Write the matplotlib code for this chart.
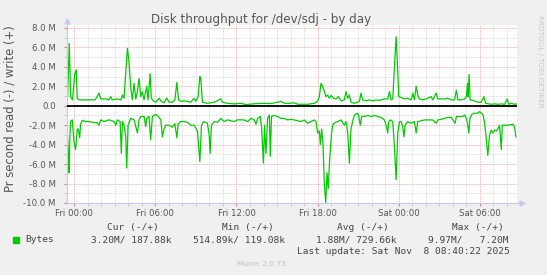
import numpy as np
import matplotlib
matplotlib.use('Agg')
import matplotlib.pyplot as plt
from matplotlib.ticker import MultipleLocator, FuncFormatter


# hours after Fri 00:00, throughput in MB/s
write_hours = [
    -0.56, -0.49, -0.37, -0.27, -0.13, 0.03, 0.15, 0.22, 0.35, 0.79,
    1.16, 1.53, 1.70, 1.83, 1.96, 2.33, 2.57, 2.70, 2.81, 3.19,
    3.44, 3.56, 3.68, 3.81, 3.93, 4.05, 4.18, 4.30, 4.42, 4.55,
    4.67, 4.79, 4.92, 5.04, 5.16, 5.36, 5.46, 5.61, 5.70, 5.85,
    6.03, 6.27, 6.44, 6.64, 6.84, 7.01, 7.26, 7.44, 7.59, 7.71,
    7.88, 8.13, 8.37, 8.62, 8.87, 8.99, 9.16, 9.29, 9.36, 9.48,
    9.85, 10.35, 10.84, 10.96, 11.33, 11.83, 12.33, 12.70, 13.31, 14.03,
    14.55, 15.04, 15.29, 15.53, 15.90, 16.27, 16.52, 17.26, 17.76, 18.00,
    18.13, 18.25, 18.37, 18.50, 18.62, 18.74, 18.87, 18.99, 19.19, 19.37,
    19.53, 19.73, 19.98, 20.10, 20.23, 20.35, 20.47, 20.72, 20.96, 21.09,
    21.21, 21.33, 21.58, 21.83, 22.07, 22.33, 22.57, 22.94, 23.19, 23.31,
    23.44, 23.56, 23.69, 23.81, 23.93, 24.00, 24.18, 24.42, 24.67, 24.92,
    25.04, 25.16, 25.29, 25.41, 25.53, 25.78, 26.03, 26.15, 26.40, 26.52,
    26.77, 26.89, 27.14, 27.39, 27.63, 27.88, 28.13, 28.26, 28.38, 28.64,
    28.88, 29.00, 29.09, 29.13, 29.21, 29.28, 29.61, 29.85, 30.10, 30.30,
    30.43, 30.85, 31.10, 31.33, 31.59, 31.83, 32.03, 32.13, 32.33, 32.57,
    32.70]
write_mb = [
    0.94, 0.90, 6.40, 0.94, 0.60, 3.20, 3.70, 0.77, 0.60, 0.60,
    0.60, 0.60, 0.94, 1.30, 0.70, 0.70, 0.60, 0.94, 0.60, 0.70,
    0.60, 1.10, 0.77, 3.50, 5.90, 4.50, 1.80, 0.60, 2.30, 0.70,
    1.45, 2.80, 0.94, 1.45, 0.60, 2.00, 0.60, 3.30, 0.77, 0.50,
    0.36, 0.77, 0.45, 0.30, 0.80, 0.36, 0.36, 0.60, 2.40, 0.60,
    0.45, 0.50, 0.45, 0.36, 0.77, 0.45, 0.94, 3.00, 2.80, 0.36,
    0.25, 0.36, 0.70, 0.36, 0.25, 0.19, 0.25, 0.12, 0.20, 0.25,
    0.22, 0.36, 0.45, 0.25, 0.25, 0.30, 0.15, 0.15, 0.25, 0.45,
    0.94, 2.30, 2.00, 1.45, 0.94, 1.10, 0.77, 1.05, 0.77, 0.70,
    0.94, 0.50, 0.60, 1.45, 0.77, 1.10, 0.36, 0.25, 0.36, 0.45,
    1.30, 0.60, 0.50, 0.60, 0.50, 0.60, 0.55, 0.70, 0.70, 1.45,
    0.60, 0.70, 4.20, 7.10, 3.50, 0.94, 0.85, 0.70, 0.77, 0.60,
    1.30, 0.60, 2.00, 1.10, 0.70, 0.60, 0.70, 0.77, 0.94, 0.60,
    1.30, 0.70, 0.70, 0.70, 0.77, 0.60, 0.60, 1.60, 0.60, 0.60,
    0.70, 0.94, 2.30, 0.94, 3.20, 0.60, 0.50, 0.36, 0.36, 0.94,
    0.25, 0.15, 0.19, 0.15, 0.19, 0.15, 0.70, 0.15, 0.25, 0.15,
    0.19]

read_hours = [
    -0.56, -0.44, -0.39, -0.32, -0.27, -0.15, -0.02, 0.10, 0.22, 0.30,
    0.40, 0.47, 0.59, 0.84, 1.09, 1.33, 1.70, 1.83, 1.96, 2.20,
    2.57, 2.94, 3.07, 3.19, 3.39, 3.48, 3.56, 3.68, 3.81, 3.88,
    3.98, 4.18, 4.42, 4.67, 4.79, 4.92, 5.16, 5.29, 5.36, 5.53,
    5.65, 5.78, 6.03, 6.15, 6.40, 6.52, 6.64, 6.77, 7.01, 7.26,
    7.44, 7.59, 7.69, 7.88, 8.13, 8.37, 8.62, 8.87, 9.11, 9.29,
    9.41, 9.56, 9.85, 9.98, 10.05, 10.15, 10.35, 10.60, 10.84, 11.09,
    11.33, 11.59, 11.83, 12.07, 12.33, 12.57, 12.82, 13.07, 13.31, 13.44,
    13.56, 13.76, 13.86, 13.99, 14.07, 14.18, 14.30, 14.43, 14.50, 14.59,
    14.79, 15.04, 15.29, 15.53, 15.79, 16.03, 16.27, 16.52, 16.77, 17.01,
    17.26, 17.51, 17.76, 17.88, 18.00, 18.13, 18.20, 18.30, 18.40, 18.50,
    18.60, 18.70, 18.79, 18.89, 19.02, 19.11, 19.22, 19.47, 19.73, 19.98,
    20.10, 20.23, 20.35, 20.47, 20.59, 20.72, 20.93, 21.02, 21.16, 21.26,
    21.46, 21.70, 21.96, 22.21, 22.44, 22.70, 22.94, 23.07, 23.19, 23.26,
    23.39, 23.56, 23.69, 23.81, 23.93, 24.06, 24.18, 24.30, 24.38, 24.48,
    24.67, 24.92, 25.16, 25.29, 25.41, 25.66, 25.90, 26.15, 26.52, 26.64,
    26.77, 26.89, 27.14, 27.39, 27.63, 27.88, 28.17, 28.27, 28.50, 28.74,
    28.87, 29.00, 29.09, 29.19, 29.27, 29.40, 29.61, 29.85, 29.98, 30.22,
    30.34, 30.47, 30.59, 30.72, 30.85, 30.97, 31.10, 31.22, 31.33, 31.46,
    31.59, 31.66, 31.83, 32.09, 32.33, 32.45, 32.57, 32.67]
read_mb = [
    1.63, 4.70, 6.90, 3.00, 1.63, 1.45, 3.70, 4.50, 2.40, 2.40,
    3.30, 1.90, 1.50, 1.63, 1.63, 1.70, 1.75, 2.00, 1.45, 1.63,
    1.45, 1.63, 2.00, 1.45, 1.63, 4.90, 1.63, 2.00, 3.30, 6.40,
    2.00, 1.30, 1.45, 2.80, 1.45, 1.10, 1.10, 2.15, 1.30, 1.10,
    3.50, 1.10, 0.90, 1.00, 1.45, 3.20, 2.40, 2.00, 2.00, 2.20,
    1.85, 3.30, 1.85, 1.63, 1.63, 1.70, 2.00, 2.00, 2.60, 5.75,
    2.00, 1.63, 1.80, 3.00, 4.90, 2.00, 1.63, 1.70, 1.30, 1.63,
    1.45, 1.55, 1.63, 1.45, 1.45, 1.46, 1.63, 1.30, 1.46, 1.90,
    1.30, 1.10, 2.30, 5.90, 2.00, 4.90, 1.30, 0.95, 5.20, 1.10,
    1.00, 1.10, 1.30, 1.30, 1.46, 1.40, 1.46, 1.55, 1.63, 1.46,
    1.80, 1.63, 1.46, 1.63, 2.80, 2.60, 4.00, 2.40, 4.00, 8.10,
    9.97, 6.90, 8.50, 5.50, 3.00, 2.00, 1.80, 1.63, 1.46, 2.00,
    1.63, 2.80, 5.90, 2.40, 1.63, 0.95, 0.77, 0.95, 2.00, 1.10,
    1.10, 1.00, 1.10, 1.00, 1.10, 1.20, 1.46, 2.00, 2.80, 1.63,
    1.46, 1.63, 4.40, 7.60, 2.80, 1.63, 1.63, 2.15, 3.20, 2.00,
    1.63, 1.80, 1.63, 2.80, 1.63, 1.55, 1.46, 1.46, 1.46, 1.63,
    1.80, 1.46, 1.40, 1.30, 1.20, 1.20, 1.80, 1.10, 1.10, 1.10,
    0.95, 1.30, 1.80, 2.80, 1.30, 0.90, 0.77, 0.77, 0.60, 0.90,
    1.63, 3.30, 5.10, 3.00, 2.50, 2.80, 2.50, 2.60, 2.40, 2.00,
    4.50, 2.00, 2.00, 2.00, 1.95, 1.90, 2.20, 3.20]

tick_hours = [0, 6, 12, 18, 24, 30]
tick_labels = ['Fri 00:00', 'Fri 06:00', 'Fri 12:00',
               'Fri 18:00', 'Sat 00:00', 'Sat 06:00']

col_heads = ['Cur (-/+)', 'Min (-/+)', 'Avg (-/+)', 'Max (-/+)']
col_values = ['3.20M/ 187.88k', '514.89k/ 119.08k',
              '1.88M/ 729.66k', '9.97M/   7.20M']
last_update = 'Last update: Sat Nov  8 08:40:22 2025'

GREEN = '#00cc00'
BG = '#f0f0f0'
TXT = '#555555'
AXIS = '#c8c8f0'

W, H = 547, 275
fig = plt.figure(figsize=(W / 100, H / 100), dpi=100, facecolor=BG)
ax = fig.add_axes([66.7 / W, 1 - 203 / H, (517 - 66.7) / W, (203 - 25) / H])
ax.set_facecolor('white')

ax.plot(write_hours, write_mb, color=GREEN, lw=0.9)
ax.plot(read_hours, -np.array(read_mb), color=GREEN, lw=0.9)
ax.axhline(0, color='black', lw=1.3, zorder=3)

ax.set_xlim(-0.56, 32.75)
ax.set_ylim(-10.0, 8.3)

ax.xaxis.set_major_locator(MultipleLocator(6))
ax.xaxis.set_minor_locator(MultipleLocator(1))
ax.yaxis.set_major_locator(MultipleLocator(2))
ax.yaxis.set_minor_locator(MultipleLocator(1))
ax.set_xticks(tick_hours)
ax.set_xticklabels(tick_labels)


def fmt_mega(val, pos):
    """."""
    if abs(val) < 1e-9:
        return '0.0'
    return '{:.1f} M'.format(val)


ax.yaxis.set_major_formatter(FuncFormatter(fmt_mega))

ax.grid(which='minor', color='#d4d4d4', ls=(0, (1, 1)), lw=0.6)
ax.grid(which='major', color='#eca0a0', ls=(0, (1, 1)), lw=0.6)
ax.set_axisbelow(True)

for side in ('top', 'right'):
    ax.spines[side].set_visible(False)
for side in ('left', 'bottom'):
    ax.spines[side].set_color(AXIS)
    ax.spines[side].set_linewidth(0.8)

ax.tick_params(which='major', axis='x', length=2, color='#e08080',
               labelsize=6.2, labelcolor=TXT, pad=2)
ax.tick_params(which='minor', axis='x', length=2, color='#c0c0c0')
ax.tick_params(which='major', axis='y', length=2, color='#e08080',
               labelsize=6.2, labelcolor=TXT, pad=6)
ax.tick_params(which='minor', axis='y', length=2, color='#c0c0c0')

# axis arrows
ax.plot([0], [1.02], marker='^', ms=3.5, color=AXIS,
        transform=ax.transAxes, clip_on=False)
ax.plot([1.012], [0], marker='>', ms=3.5, color=AXIS,
        transform=ax.transAxes, clip_on=False)
ax.plot([1.0, 1.012], [0, 0], color=AXIS, lw=0.8,
        transform=ax.transAxes, clip_on=False)

fig.text(261.5 / W, 1 - 19 / H, 'Disk throughput for /dev/sdj - by day',
         ha='center', va='center', fontsize=8.6, color=TXT)
fig.text(10 / W, 1 - 109 / H, 'Pr second read (-) / write (+)',
         rotation=90, ha='center', va='center', fontsize=8.4, color=TXT)
fig.text(540 / W, 1 - 15 / H, 'RRDTOOL / TOBI OETIKER', rotation=270,
         ha='center', va='top', fontsize=5.2, color='#c8c8c8')

mono = dict(family='DejaVu Sans Mono', fontsize=6.8, color='#444444',
            va='center')
head_x = [106.7, 221.7, 337, 452]
val_x = [91, 192.7, 316, 428]
for hx, head in zip(head_x, col_heads):
    fig.text(hx / W, 1 - 227.7 / H, head, ha='left', **mono)
for vx, val in zip(val_x, col_values):
    fig.text(vx / W, 1 - 240 / H, val, ha='left', **mono)
fig.text(25 / W, 1 - 240 / H, 'Bytes', ha='left', **mono)
fig.text(509.5 / W, 1 - 251.7 / H, last_update, ha='right', **mono)

fig.patches.append(plt.Rectangle((13.3 / W, 1 - 243 / H), 6 / W, 6 / H,
                                 transform=fig.transFigure,
                                 color=GREEN, figure=fig))

fig.text(261 / W, 1 - 263.5 / H, 'Munin 2.0.73', ha='center', va='center',
         fontsize=5.4, color='#c0c0c0')

fig.savefig('out.png', dpi=100, facecolor=BG)
